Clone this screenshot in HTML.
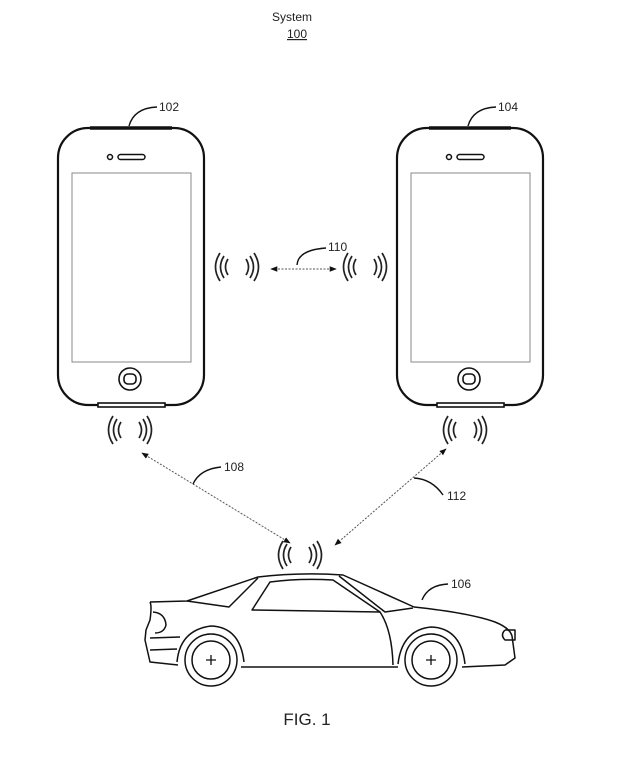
<!DOCTYPE html>
<html><head><meta charset="utf-8"><style>
html,body{margin:0;padding:0;background:#fff;}
svg{display:block}
text{font-family:"Liberation Sans",Arial,sans-serif;fill:#222}
</style></head><body>
<svg width="633" height="757" viewBox="0 0 633 757" xmlns="http://www.w3.org/2000/svg">
<defs>
<g id="w" fill="none" stroke="#222" stroke-width="1.7">
<path d="M-9,-8 Q-14,0 -9,8"/><path d="M-13,-11 Q-20,0 -13,11"/><path d="M-17,-14 Q-26,0 -17,14"/>
<path d="M9,-8 Q14,0 9,8"/><path d="M13,-11 Q20,0 13,11"/><path d="M17,-14 Q26,0 17,14"/>
</g>
<g id="phone" fill="none" stroke="#111">
<rect x="58" y="128" width="146" height="277" rx="30" stroke-width="2.2"/>
<path d="M90,128 H172" stroke-width="3.5"/>
<rect x="72" y="173" width="119" height="189" stroke="#888" stroke-width="1"/>
<circle cx="110" cy="157" r="2.5" stroke-width="1.5"/>
<rect x="118" y="154.5" width="27" height="5" rx="2.5" stroke-width="1.5"/>
<circle cx="130" cy="379" r="11" stroke-width="1.6"/>
<rect x="124" y="374" width="12" height="10" rx="4" stroke-width="1.6"/>
<rect x="98" y="403" width="67" height="4" stroke-width="1.6" fill="#fff"/>
</g>
<marker id="ah" viewBox="0 0 10 10" refX="9" refY="5" markerWidth="7" markerHeight="7" orient="auto-start-reverse"><path d="M0,1 L10,5 L0,9 z" fill="#111"/></marker>
</defs>
<text x="292" y="21" font-size="12" text-anchor="middle">System</text>
<text x="297" y="38" font-size="12" text-anchor="middle" text-decoration="underline">100</text>
<use href="#phone"/>
<use href="#phone" transform="translate(339,0)"/>
<use href="#w" x="237" y="267"/>
<use href="#w" x="365" y="267"/>
<use href="#w" x="130" y="430"/>
<use href="#w" x="465" y="430"/>
<use href="#w" x="300" y="555"/>
<g stroke="#555" stroke-width="1" stroke-dasharray="2,1.5" fill="none">
<line x1="271" y1="269" x2="336" y2="269" marker-start="url(#ah)" marker-end="url(#ah)"/>
<line x1="142" y1="453" x2="290" y2="543" marker-start="url(#ah)" marker-end="url(#ah)"/>
<line x1="446" y1="449" x2="335" y2="545" marker-start="url(#ah)" marker-end="url(#ah)"/>
</g>
<g fill="none" stroke="#111" stroke-width="1.4">
<path d="M129,126 Q134,108 157,107"/>
<path d="M468,126 Q473,108 496,107"/>
<path d="M297,265 Q298,250 326,248"/>
<path d="M193,484 Q200,469 221,467"/>
<path d="M414,478 Q432,479 443,495"/>
<path d="M422,600 Q428,585 448,584"/>
</g>
<text x="159" y="111" font-size="12">102</text>
<text x="498" y="111" font-size="12">104</text>
<text x="328" y="251" font-size="12">110</text>
<text x="224" y="471" font-size="12">108</text>
<text x="447" y="500" font-size="12">112</text>
<text x="451" y="588" font-size="12">106</text>
<g fill="none" stroke="#111" stroke-width="1.5" stroke-linejoin="round">
<path d="M150,602 L187,601 L258,577 Q300,572 343,575 L414,607 Q470,613 495,622 Q510,628 512,636 L515,658 L505,665 L462,667"/>
<path d="M398,667 L241,667"/>
<path d="M178,665 L150,662 L145,640 L146,630 L150,620 Q152,606 150,602"/>
<path d="M187,601 L229,607 L258,578"/>
<path d="M339,576 L385,612 L413,608"/>
<path d="M252,610 L270,582 Q300,578 333,580 L380,612 Z"/>
<path d="M380,612 Q392,630 393,665"/>
<path d="M150,638 L180,637 M150,650 L177,649"/>
<path d="M153,612 Q165,613 166,625 Q164,633 155,633"/>
<path d="M505,630 L515,630 L515,640 L505,640 Q500,635 505,630"/>
<path d="M177,662 Q180,630 211,626 Q240,627 244,662"/>
<path d="M398,664 Q402,630 431,627 Q461,628 465,664"/>
<circle cx="211" cy="660" r="26"/>
<circle cx="211" cy="660" r="19"/>
<circle cx="431" cy="660" r="26"/>
<circle cx="431" cy="660" r="19"/>
<path d="M206,660 H216 M211,655 V665 M426,660 H436 M431,655 V665" stroke-width="1.3"/>
</g>
<text x="307" y="725" font-size="17" text-anchor="middle">FIG. 1</text>
</svg>
</body></html>
